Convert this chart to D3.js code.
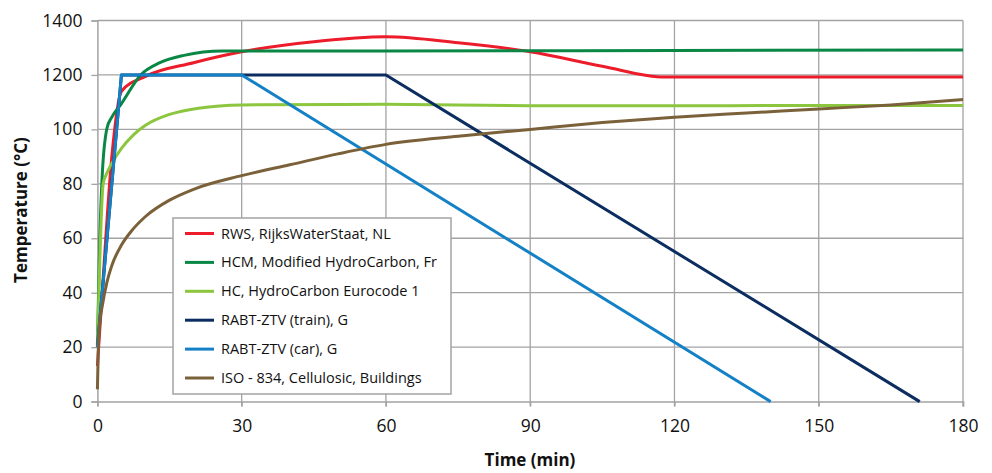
<!DOCTYPE html>
<html>
<head>
<meta charset="utf-8">
<script src="https://cdn.jsdelivr.net/npm/d3@7"></script>
<style>
  html, body { margin: 0; padding: 0; background: #fff; }
  svg text { font-family: "Open Sans", "Noto Sans", sans-serif; fill: #111; }
</style>
</head>
<body>
<div id="chart"></div>
<script>
// --- data (time in min, temperature in plot units) ---
const seriesNames = [
  "RWS, RijksWaterStaat, NL",
  "HCM, Modified HydroCarbon, Fr",
  "HC, HydroCarbon Eurocode 1",
  "RABT-ZTV (train), G",
  "RABT-ZTV (car), G",
  "ISO - 834, Cellulosic, Buildings"
];
const seriesColors = ["#ec1c2a", "#0a8744", "#8cc63f", "#0b2d5f", "#1481c6", "#7b6139"];
const seriesSmooth = [true, true, true, false, false, true];

const rwsData = [[0,130],[1,400],[3,900],[5,1140],[10,1195],[20,1245],[30,1285],[45,1322],[60,1340],[75,1318],[90,1285],[105,1232],[118,1192],[180,1192]];
const hcmData = [[0,210],[0.5,600],[1,830],[2,1005],[3,1045],[5,1095],[9,1200],[13,1245],[18,1272],[26,1288],[60,1288],[120,1290],[180,1292]];
const hcData  = [[0,200],[0.5,520],[1.2,800],[2,840],[3,875],[5,930],[7.5,980],[10,1015],[15,1055],[21,1078],[30,1090],[60,1092],[90,1087],[180,1088]];
const trainData = [[0,200],[5,1200],[60,1200],[171,0]];
const carData   = [[0,200],[5,1200],[30,1200],[140,0]];
const isoData = [[0,45],[0.2,200],[0.5,290],[1,350],[2,440],[3,500],[5,575],[7,625],[10,680],[15,740],[20,780],[30,830],[40,870],[50,910],[60,945],[75,975],[90,1000],[105,1025],[120,1045],[135,1060],[150,1075],[165,1090],[180,1110]];
const allSeries = [rwsData, hcmData, hcData, trainData, carData, isoData];

const xTicks = [0, 30, 60, 90, 120, 150, 180];
const yTicks = [0, 200, 400, 600, 800, 1000, 1200, 1400];
const yTickLabels = ["0", "20", "40", "60", "80", "100", "1200", "1400"];

// --- canvas ---
const width = 992, height = 473;
const svg = d3.select("#chart").append("svg")
  .attr("width", width).attr("height", height);

const x = d3.scaleLinear().domain([0, 180]).range([97.4, 963]);
const y = d3.scaleLinear().domain([0, 1400]).range([401.6, 20.5]);

// gridlines
svg.append("g").selectAll("line.h").data(yTicks.filter(d => d > 0)).enter()
  .append("line")
  .attr("x1", x(0)).attr("x2", x(180))
  .attr("y1", d => y(d)).attr("y2", d => y(d))
  .attr("stroke", "#a3a3a3").attr("stroke-width", 1.3);
svg.append("g").selectAll("line.v").data(xTicks.filter(d => d > 0)).enter()
  .append("line")
  .attr("x1", d => x(d)).attr("x2", d => x(d))
  .attr("y1", y(1400)).attr("y2", y(0) + 5)
  .attr("stroke", "#a3a3a3").attr("stroke-width", 1.3);

// axes
const yAxis = d3.axisLeft(y).tickValues(yTicks).tickSize(6).tickPadding(9)
  .tickFormat((d, i) => yTickLabels[i]);
const gy = svg.append("g").attr("transform", `translate(${x(0)},0)`).call(yAxis);
const xAxis = d3.axisBottom(x).tickValues(xTicks).tickSize(5).tickPadding(13);
const gx = svg.append("g").attr("transform", `translate(0,${y(0)})`).call(xAxis);
[gx, gy].forEach(g => {
  g.select(".domain").attr("stroke", "#a3a3a3").attr("stroke-width", 1.5);
  g.selectAll(".tick line").attr("stroke", "#a3a3a3").attr("stroke-width", 1.3);
  g.selectAll(".tick text").attr("font-size", 17.5)
    .attr("font-family", "'Open Sans', sans-serif").attr("fill", "#111");
});

// series
const lineSmooth = d3.line().x(d => x(d[0])).y(d => y(d[1])).curve(d3.curveMonotoneX);
const lineStraight = d3.line().x(d => x(d[0])).y(d => y(d[1]));
allSeries.forEach((data, i) => {
  svg.append("path")
    .datum(data)
    .attr("d", seriesSmooth[i] ? lineSmooth : lineStraight)
    .attr("fill", "none")
    .attr("stroke", seriesColors[i])
    .attr("stroke-width", 3)
    .attr("stroke-linejoin", "round");
});

// legend
const legend = svg.append("g").attr("transform", "translate(173,218)");
legend.append("rect")
  .attr("width", 278).attr("height", 176)
  .attr("fill", "#fff").attr("stroke", "#a3a3a3").attr("stroke-width", 1.5);
const items = legend.selectAll("g.item").data(seriesNames).enter()
  .append("g").attr("transform", (d, i) => `translate(0,${15.5 + i * 28.9})`);
items.append("line")
  .attr("x1", 12).attr("x2", 41)
  .attr("stroke", (d, i) => seriesColors[i]).attr("stroke-width", 3);
items.append("text")
  .attr("x", 48).attr("dy", "0.35em")
  .attr("font-size", 14.5)
  .text(d => d);

// axis titles
svg.append("text")
  .attr("x", 530).attr("y", 466)
  .attr("text-anchor", "middle")
  .attr("font-size", 17).attr("font-weight", "bold")
  .text("Time (min)");
svg.append("text")
  .attr("transform", "translate(27,210) rotate(-90)")
  .attr("text-anchor", "middle")
  .attr("font-size", 17).attr("font-weight", "bold")
  .text("Temperature (°C)");
</script>
</body>
</html>
